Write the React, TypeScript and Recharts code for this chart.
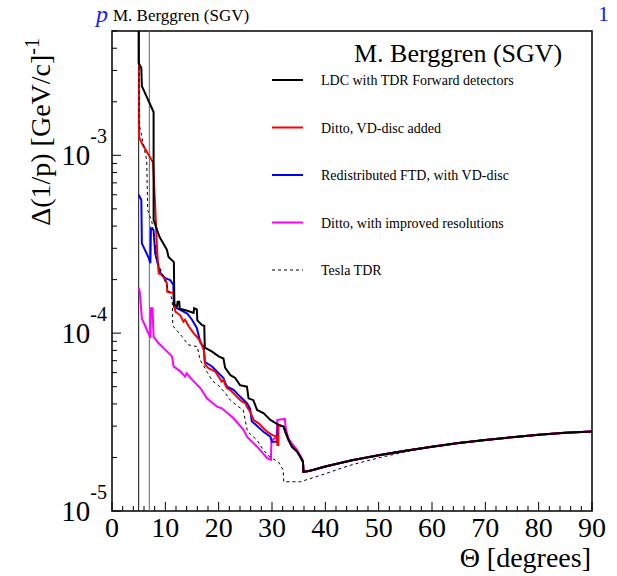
import React from 'react';
import { LineChart, Line, XAxis, YAxis, ReferenceArea, ReferenceLine } from 'recharts';

type Pt = [number, number];

// theta [deg], delta(1/p) [GeV/c]^-1
const ldc: Pt[] = [
  [5.0, 8e-3], [5.0, 3.3e-3], [5.5, 3.1e-3], [5.6, 2.45e-3], [7.8, 1.75e-3], [7.8, 4.34e-4],
  [8.9, 3.48e-4], [10.3, 2.94e-4], [10.6, 2.68e-4], [11.6, 2.51e-4], [11.7, 1.44e-4],
  [12.2, 1.42e-4], [12.3, 1.5e-4], [12.6, 1.5e-4], [12.7, 1.37e-4], [14.0, 1.34e-4],
  [15.3, 1.3e-4], [15.4, 1.38e-4], [15.9, 1.36e-4], [16.0, 1.18e-4], [16.9, 1.11e-4],
  [17.3, 1.1e-4], [17.4, 8.3e-5], [18.7, 7.9e-5], [20.0, 7.4e-5], [20.9, 7.2e-5],
  [21.2, 6.4e-5], [22.2, 5.8e-5], [23.1, 5.6e-5], [24.0, 5.1e-5], [25.3, 5.0e-5],
  [25.6, 4.3e-5], [26.5, 4.2e-5], [27.2, 3.7e-5], [28.4, 3.55e-5], [29.7, 3.25e-5],
  [31.2, 3.05e-5], [32.2, 2.98e-5], [32.5, 2.79e-5], [33.1, 2.51e-5], [33.75, 2.3e-5],
  [34.7, 2.16e-5], [35.3, 2.02e-5], [35.8, 1.89e-5], [35.9, 1.66e-5],
];

const vdDisc: Pt[] = [
  [5.05, 8e-3], [5.05, 1.27e-3], [5.6, 1.17e-3], [7.7, 9.1e-4], [8.1, 5.15e-4], [8.45, 2.94e-4],
  [8.75, 2.17e-4], [9.4, 2.12e-4], [10.0, 1.99e-4], [10.3, 1.91e-4], [10.35, 1.71e-4],
  [11.55, 1.68e-4], [11.7, 1.41e-4], [11.9, 1.32e-4], [12.8, 1.26e-4], [13.4, 1.16e-4],
  [13.7, 1.19e-4], [14.4, 1.09e-4], [15.3, 1.0e-4], [15.9, 9.55e-5], [16.6, 8.96e-5],
  [17.2, 8.05e-5], [17.5, 6.62e-5], [18.1, 6.35e-5], [19.4, 6.07e-5], [20.0, 5.69e-5],
  [20.6, 5.34e-5], [20.9, 5.46e-5], [21.25, 5.11e-5], [21.6, 4.9e-5], [22.2, 4.79e-5],
  [22.8, 4.59e-5], [23.7, 4.3e-5], [24.4, 4.12e-5], [25.0, 4.04e-5], [25.3, 3.86e-5],
  [25.9, 3.62e-5], [26.55, 3.25e-5], [27.5, 3.11e-5], [28.4, 2.92e-5], [29.1, 2.79e-5],
  [30.0, 2.68e-5], [30.9, 2.61e-5], [31.0, 2.35e-5], [31.2, 2.35e-5], [31.2, 3.05e-5],
];

const redistributed: Pt[] = [
  [5.0, 6.0e-4], [5.5, 5.6e-4], [5.6, 3.2e-4], [6.9, 2.64e-4], [7.2, 2.47e-4], [7.3, 3.89e-4],
  [7.8, 3.8e-4], [8.1, 2.81e-4], [8.7, 2.37e-4], [9.1, 2.17e-4], [10.0, 2.04e-4],
  [10.9, 1.99e-4], [11.5, 1.87e-4], [11.6, 1.41e-4], [12.8, 1.35e-4], [14.1, 1.29e-4],
  [15.0, 1.19e-4], [15.9, 1.07e-4], [16.6, 8.8e-5], [17.2, 8.4e-5], [17.4, 6.9e-5],
  [18.75, 6.5e-5], [20.0, 5.95e-5], [20.9, 5.6e-5], [21.25, 5.23e-5], [21.6, 5.0e-5],
  [22.8, 4.8e-5], [24.0, 4.4e-5], [25.3, 4.04e-5], [25.9, 3.75e-5], [26.2, 3.2e-5],
  [28.4, 2.79e-5], [29.7, 2.62e-5], [30.0, 2.45e-5], [30.9, 2.45e-5], [31.1, 3.05e-5],
];

const improved: Pt[] = [
  [5.0, 1.8e-4], [5.2, 1.71e-4], [5.6, 1.21e-4], [7.2, 9.4e-5], [7.3, 1.38e-4], [7.6, 1.38e-4],
  [7.8, 9.55e-5], [8.7, 8.8e-5], [10.3, 7.9e-5], [11.25, 7.4e-5], [11.55, 6.5e-5],
  [12.8, 6.1e-5], [13.7, 5.7e-5], [14.0, 5.95e-5], [14.7, 5.6e-5], [16.6, 4.9e-5],
  [17.8, 4.3e-5], [19.7, 3.86e-5], [20.6, 3.78e-5], [22.8, 3.32e-5], [24.7, 2.85e-5],
  [25.3, 2.62e-5], [27.2, 2.3e-5], [29.1, 1.98e-5], [29.8, 1.94e-5], [29.9, 2.5e-5],
  [30.9, 2.6e-5], [31.0, 3.25e-5], [32.4, 3.3e-5], [32.6, 2.9e-5], [33.1, 2.55e-5],
  [33.7, 2.4e-5], [34.5, 2.25e-5], [35.3, 2.05e-5], [35.8, 1.92e-5], [35.9, 1.66e-5],
];

const teslaTdr: Pt[] = [
  [5.0, 8e-3], [5.1, 1.5e-3], [6.5, 9.4e-4], [6.7, 4.9e-4], [7.5, 4.2e-4], [8.4, 2.6e-4],
  [10.0, 1.94e-4], [11.3, 1.54e-4], [11.4, 1.1e-4], [13.1, 9.6e-5], [14.3, 8.6e-5],
  [16.0, 8.4e-5], [16.5, 7.1e-5], [17.9, 6.0e-5], [18.8, 5.4e-5], [19.9, 5.1e-5],
  [21.25, 4.6e-5], [22.2, 4.2e-5], [23.5, 3.9e-5], [24.6, 3.7e-5], [25.4, 2.8e-5],
  [27.2, 2.5e-5], [28.4, 2.2e-5], [29.7, 2.0e-5], [31.2, 1.89e-5], [32.1, 1.7e-5],
  [32.2, 1.46e-5], [35.3, 1.46e-5], [38.0, 1.55e-5], [40.0, 1.62e-5], [42.5, 1.72e-5],
  [45.0, 1.82e-5], [50.0, 1.99e-5], [55.0, 2.15e-5],
];

// barrel region, shared by all layouts
const barrel: Pt[] = [
  [36.9, 1.68e-5], [38.0, 1.71e-5], [40.0, 1.78e-5], [45.0, 1.93e-5], [50.0, 2.06e-5],
  [55.0, 2.18e-5], [60.0, 2.3e-5], [65.0, 2.41e-5], [70.0, 2.51e-5], [75.0, 2.6e-5],
  [80.0, 2.68e-5], [85.0, 2.75e-5], [90.0, 2.8e-5],
];

const xMajor = [0, 10, 20, 30, 40, 50, 60, 70, 80, 90];
const yDecades = [1e-5, 1e-4, 1e-3];
const yDecadeLabels = ['-5', '-4', '-3'];

const SERIF = '"Liberation Serif", "Times New Roman", serif';
const Y_MIN = 1e-5;
const Y_MAX = 5e-3;

const rows = (pts: Pt[]) => pts.map(([t, v]) => ({ t, v }));

const ldcAll = [...ldc, ...barrel];
const series = [
  { key: 'ldc', name: 'LDC with TDR Forward detectors', color: '#000000', width: 2, dash: undefined as string | undefined, pts: ldcAll },
  { key: 'vd', name: 'Ditto, VD-disc added', color: '#ff0000', width: 2, dash: undefined, pts: [...vdDisc, ...ldc.filter((p) => p[0] >= 32), ...barrel] },
  { key: 'ftd', name: 'Redistributed FTD, with VD-disc', color: '#0000ff', width: 2, dash: undefined, pts: [...redistributed, ...ldc.filter((p) => p[0] >= 31.2), ...barrel] },
  { key: 'imp', name: 'Ditto, with improved resolutions', color: '#ff00ff', width: 2, dash: undefined, pts: [...improved, ...barrel] },
  { key: 'tdr', name: 'Tesla TDR', color: '#000000', width: 1, dash: '3 3', pts: [...teslaTdr, ...barrel.filter((p) => p[0] >= 60)] },
];
const drawOrder = ['imp', 'ftd', 'vd', 'ldc', 'tdr'];

const xTicks: number[] = [];
for (let t = 0; t <= 90; t += 2) xTicks.push(t);
const yTicks: number[] = [];
yDecades.forEach((d) => {
  for (let m = 1; m <= 9; m++) if (m * d <= Y_MAX * 1.0001) yTicks.push(m * d);
});

const XTick = (props: any) => {
  const { x, y, payload } = props;
  const major = xMajor.includes(payload.value);
  return (
    <g>
      <line x1={x} x2={x} y1={y} y2={y - (major ? 9 : 5)} stroke="#000" strokeWidth={1} />
      {major && (
        <text x={x} y={y + 26} textAnchor="middle" fontFamily={SERIF} fontSize={28} fill="#000">
          {payload.value}
        </text>
      )}
    </g>
  );
};

const YTick = (props: any) => {
  const { x, y, payload } = props;
  const idx = yDecades.findIndex((d) => Math.abs(payload.value / d - 1) < 1e-6);
  const major = idx >= 0;
  return (
    <g>
      <line x1={x} x2={x + (major ? 9 : 5)} y1={y} y2={y} stroke="#000" strokeWidth={1} />
      {major && (
        <text x={x - 5} y={y + 10} textAnchor="end" fontFamily={SERIF} fontSize={29} fill="#000">
          10<tspan dy={-22} fontSize={20}>{yDecadeLabels[idx]}</tspan>
        </text>
      )}
    </g>
  );
};

const LegendBlock = () => {
  const rowsY = [80, 127.5, 175, 222.5, 270];
  return (
    <g fontFamily={SERIF}>
      <text x={354} y={62} fontSize={26} fill="#000">M. Berggren (SGV)</text>
      {series.map((s, i) => (
        <g key={s.key}>
          <line x1={272} x2={303} y1={rowsY[i]} y2={rowsY[i]} stroke={s.color} strokeWidth={s.width} strokeDasharray={s.dash} />
          <text x={321} y={rowsY[i] + 5} fontSize={14} fill="#000">{s.name}</text>
        </g>
      ))}
    </g>
  );
};

export default function App() {
  return (
    <div style={{ position: 'absolute', left: 0, top: 0, width: 617, height: 576, background: '#fff' }}>
      <LineChart width={617} height={576} margin={{ top: 31, right: 25, bottom: 0, left: 0 }}>
        <XAxis
          dataKey="t"
          type="number"
          domain={[0, 90]}
          ticks={xTicks}
          interval={0}
          allowDataOverflow
          axisLine={false}
          tickLine={false}
          tickSize={0}
          tickMargin={0}
          height={65}
          tick={<XTick />}
        />
        <YAxis
          dataKey="v"
          type="number"
          scale="log"
          domain={[Y_MIN, Y_MAX]}
          ticks={yTicks}
          interval={0}
          allowDataOverflow
          axisLine={false}
          tickLine={false}
          tickSize={0}
          tickMargin={0}
          width={112}
          tick={<YTick />}
        />
        <ReferenceArea x1={0} x2={90} y1={Y_MIN} y2={Y_MAX} fill="none" stroke="#000" strokeWidth={1.5} fillOpacity={0} />
        <ReferenceLine x={5} stroke="#111" strokeWidth={1} />
        <ReferenceLine x={7} stroke="#666" strokeWidth={1} />
        {drawOrder.map((k) => {
          const s = series.find((q) => q.key === k)!;
          return (
            <Line
              key={s.key}
              data={rows(s.pts)}
              dataKey="v"
              name={s.name}
              type="linear"
              stroke={s.color}
              strokeWidth={s.width}
              strokeDasharray={s.dash}
              dot={false}
              activeDot={false}
              isAnimationActive={false}
            />
          );
        })}
      </LineChart>
      <svg width={617} height={576} style={{ position: 'absolute', left: 0, top: 0, pointerEvents: 'none' }}>
        <text x={96} y={22} fontFamily={SERIF} fontStyle="italic" fontSize={24} fill="#1a1aff">p</text>
        <text x={598} y={21} fontFamily={SERIF} fontSize={22} fill="#1a1aff">1</text>
        <text x={113} y={21} fontFamily={SERIF} fontSize={17} fill="#000">M. Berggren (SGV)</text>
        <LegendBlock />
        <text x={591} y={567} textAnchor="end" fontFamily={SERIF} fontSize={28} fill="#000">Θ [degrees]</text>
        <text transform="translate(50, 38) rotate(-90)" textAnchor="end" fontFamily={SERIF} fontSize={28} fill="#000">
          Δ(1/p) [GeV/c]<tspan dy={-11} fontSize={20}>-1</tspan>
        </text>
      </svg>
    </div>
  );
}
